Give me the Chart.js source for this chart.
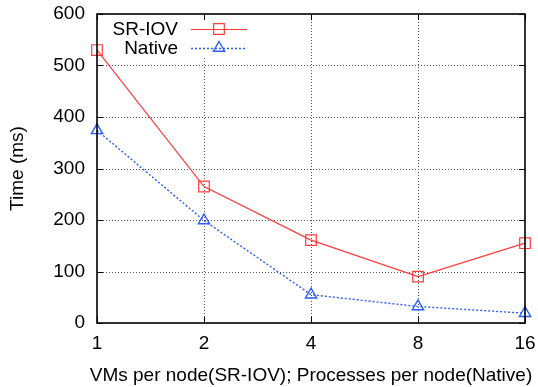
<!DOCTYPE html>
<html>
<head>
<meta charset="utf-8">
<script src="https://cdn.jsdelivr.net/npm/chart.js@4"></script>
<style>
  html, body { margin: 0; padding: 0; background: #fff; }
  #wrap { width: 538px; height: 387px; }
</style>
</head>
<body>
<div id="wrap"><canvas id="chart" width="538" height="387"></canvas></div>
<script>
// categories on x axis
var nodes = ['1', '2', '4', '8', '16'];
// series values (ms)
var sriovTime = [530, 265, 161, 90, 155];
var nativeTime = [374, 199, 55, 32, 19];
var yTicks = [0, 100, 200, 300, 400, 500, 600];
var xTitle = 'VMs per node(SR-IOV); Processes per node(Native)';

var fontName = '"Liberation Sans", Arial, Helvetica, sans-serif';
var fontSize = 19;

// gnuplot style grid, frame, inward ticks and key
var framePlugin = {
    id: 'frame',
    beforeDatasetsDraw: function (chart) {
        var ctx = chart.ctx, a = chart.chartArea;
        var xs = chart.scales.x, ys = chart.scales.y;
        ctx.save();
        ctx.strokeStyle = '#555';
        ctx.lineWidth = 1;
        ctx.setLineDash([1, 2]);
        ctx.beginPath();
        for (var i = 1; i < nodes.length - 1; i++) {
            var px = Math.round(xs.getPixelForTick(i)) + 0.5;
            ctx.moveTo(px, a.bottom); ctx.lineTo(px, a.top);
        }
        for (var j = 1; j < yTicks.length - 1; j++) {
            var py = Math.round(ys.getPixelForValue(yTicks[j])) + 0.5;
            ctx.moveTo(a.left, py); ctx.lineTo(a.right, py);
        }
        ctx.stroke();
        ctx.setLineDash([]);
        // key background hides the grid behind it
        ctx.fillStyle = '#fff';
        ctx.fillRect(a.left + 2, a.top + 2, 155, 41);
        ctx.restore();
    },
    afterDatasetsDraw: function (chart) {
        var ctx = chart.ctx, a = chart.chartArea;
        var xs = chart.scales.x, ys = chart.scales.y;
        ctx.save();
        ctx.strokeStyle = '#000';
        ctx.lineWidth = 1;
        ctx.beginPath();
        for (var i = 0; i < nodes.length; i++) {
            var px = Math.round(xs.getPixelForTick(i)) + 0.5;
            ctx.moveTo(px, a.bottom); ctx.lineTo(px, a.bottom - 6);
            ctx.moveTo(px, a.top); ctx.lineTo(px, a.top + 6);
        }
        for (var j = 0; j < yTicks.length; j++) {
            var py = Math.round(ys.getPixelForValue(yTicks[j])) + 0.5;
            ctx.moveTo(a.left, py); ctx.lineTo(a.left + 6, py);
            ctx.moveTo(a.right, py); ctx.lineTo(a.right - 6, py);
        }
        ctx.stroke();
        ctx.lineWidth = 1.6;
        ctx.strokeRect(a.left, a.top, a.right - a.left, a.bottom - a.top);

        // x title, drawn here so it can run wider than the plot
        ctx.font = fontSize + 'px ' + fontName;
        ctx.fillStyle = '#000';
        ctx.textAlign = 'center';
        ctx.textBaseline = 'alphabetic';
        ctx.fillText(xTitle, (a.left + a.right) / 2, 381);

        // key
        ctx.textAlign = 'right';
        ctx.textBaseline = 'middle';
        chart.data.datasets.forEach(function (ds, k) {
            var y = a.top + 15 + k * 19;
            ctx.fillStyle = '#000';
            ctx.fillText(ds.label, a.left + 81, y + 1);
            ctx.strokeStyle = ds.borderColor;
            ctx.lineWidth = ds.borderWidth;
            ctx.setLineDash(ds.borderDash || []);
            ctx.beginPath();
            ctx.moveTo(a.left + 94, y + 0.5);
            ctx.lineTo(a.left + 150, y + 0.5);
            ctx.stroke();
            ctx.setLineDash([]);
            ctx.fillStyle = 'rgba(0,0,0,0)';
            ctx.strokeStyle = ds.pointBorderColor;
            ctx.lineWidth = ds.pointBorderWidth;
            Chart.helpers.drawPoint(ctx, {
                pointStyle: ds.pointStyle,
                radius: ds.pointRadius,
                borderWidth: ds.pointBorderWidth
            }, a.left + 122, y);
        });
        ctx.restore();
    }
};

var ctx = document.getElementById('chart').getContext('2d');
var myChart = new Chart(ctx, {
    type: 'line',
    data: {
        labels: nodes,
        datasets: [{
            label: 'SR-IOV',
            data: sriovTime,
            borderColor: '#ff3b3b',
            backgroundColor: 'rgba(0,0,0,0)',
            borderWidth: 1.2,
            pointStyle: 'rect',
            pointRadius: 7.5,
            pointBorderWidth: 1.2,
            pointBorderColor: '#ff3b3b',
            pointBackgroundColor: 'rgba(0,0,0,0)',
            tension: 0
        }, {
            label: 'Native',
            data: nativeTime,
            borderColor: '#2a5dff',
            backgroundColor: 'rgba(0,0,0,0)',
            borderWidth: 1.4,
            borderDash: [2, 2],
            pointStyle: 'triangle',
            pointRadius: 6.5,
            pointBorderWidth: 1.4,
            pointBorderColor: '#2a5dff',
            pointBackgroundColor: 'rgba(0,0,0,0)',
            tension: 0
        }]
    },
    options: {
        responsive: false,
        animation: false,
        devicePixelRatio: 1,
        layout: { padding: { left: 0, right: 13, top: 14, bottom: 0 } },
        plugins: {
            legend: { display: false },
            tooltip: { enabled: false }
        },
        scales: {
            x: {
                type: 'category',
                offset: false,
                grid: { display: false, drawTicks: false },
                border: { display: false },
                ticks: {
                    color: '#000',
                    font: { family: fontName, size: fontSize },
                    padding: 9,
                    maxRotation: 0
                },
                afterFit: function (scale) {
                    scale.height = 64;
                    scale.paddingLeft = 0;
                    scale.paddingRight = 0;
                }
            },
            y: {
                min: 0,
                max: 600,
                afterBuildTicks: function (scale) {
                    scale.ticks = yTicks.map(function (v) { return { value: v }; });
                },
                grid: { display: false, drawTicks: false },
                border: { display: false },
                ticks: {
                    color: '#000',
                    font: { family: fontName, size: fontSize },
                    padding: 12
                },
                title: {
                    display: true,
                    text: 'Time (ms)',
                    color: '#000',
                    font: { family: fontName, size: fontSize },
                    padding: { top: 6, bottom: 0 }
                },
                afterFit: function (scale) {
                    scale.width = 97;
                    scale.paddingTop = 0;
                    scale.paddingBottom = 0;
                }
            }
        }
    },
    plugins: [framePlugin]
});
</script>
</body>
</html>
